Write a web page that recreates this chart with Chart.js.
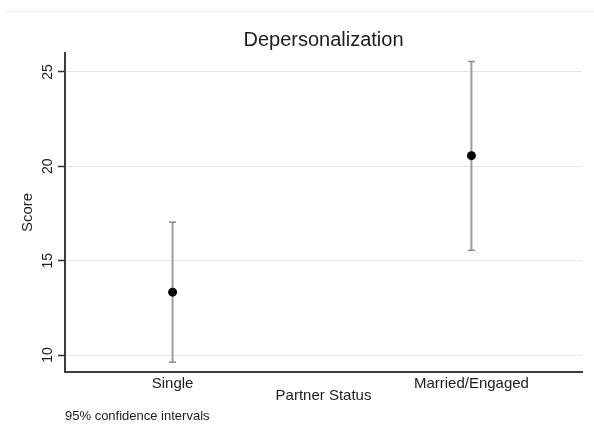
<!DOCTYPE html>
<html>
<head>
<meta charset="utf-8">
<script src="https://cdn.jsdelivr.net/npm/chart.js@4"></script>
<style>
  html, body { margin: 0; padding: 0; background: #fff; }
  #frame { position: relative; width: 594px; height: 434px; }
  #frame canvas { position: absolute; left: 0; top: 0; }
  .rule { position: absolute; left: 6px; right: 0; top: 11px; border-top: 1px solid #efefef; }
</style>
</head>
<body>
<div id="frame">
  <div class="rule"></div>
  <canvas id="chart" width="594" height="434"></canvas>
</div>
<script>
// Mean depersonalization score by partner status, with 95% confidence intervals
const partnerStatus = ['Single', 'Married/Engaged'];
const meanScore = [13.33, 20.56];
const ciLower = [9.62, 15.55];
const ciUpper = [17.04, 25.55];
const scoreTicks = [10, 15, 20, 25];

const FONT = "'Liberation Sans', Arial, Helvetica, sans-serif";
const TEXT = '#1c1c1c';
const positions = partnerStatus.map((_, i) => i + 1);

// Means as solid black markers
const meanDataset = {
  type: 'scatter',
  data: positions.map((x, i) => ({ x, y: meanScore[i] })),
  pointRadius: 4.5,
  pointHoverRadius: 4.5,
  pointBackgroundColor: '#000',
  pointBorderColor: '#000',
  pointBorderWidth: 0
};

// One capped vertical segment per category for the interval
const ciDatasets = positions.map((x, i) => ({
  type: 'line',
  data: [{ x, y: ciLower[i] }, { x, y: ciUpper[i] }],
  borderColor: '#9c9c9c',
  borderWidth: 2,
  pointStyle: 'line',
  pointRadius: 3.5,
  pointHoverRadius: 3.5,
  pointBorderColor: '#8c8c8c',
  pointBorderWidth: 1.5,
  fill: false
}));

new Chart(document.getElementById('chart'), {
  type: 'scatter',
  data: { datasets: [meanDataset, ...ciDatasets] },
  options: {
    responsive: false,
    animation: false,
    devicePixelRatio: 1,
    events: [],
    layout: { padding: { left: 0, right: 12, top: 0, bottom: 0 } },
    plugins: {
      legend: { display: false },
      tooltip: { enabled: false },
      title: {
        display: true,
        fullSize: false,
        text: 'Depersonalization',
        color: TEXT,
        font: { family: FONT, size: 20, weight: 'normal' },
        padding: { top: 28, bottom: 1 }
      },
      subtitle: {
        display: true,
        position: 'bottom',
        align: 'start',
        fullSize: false,
        text: '95% confidence intervals',
        color: TEXT,
        font: { family: FONT, size: 13, weight: 'normal' },
        padding: { top: 0, bottom: 10.2 }
      }
    },
    scales: {
      x: {
        type: 'linear',
        min: 0.64,
        max: 2.37,
        grid: { display: false, drawTicks: false },
        border: { display: true, color: '#3c3c3c', width: 2 },
        ticks: {
          padding: 3,
          color: TEXT,
          font: { family: FONT, size: 15 },
          callback: (v, i) => partnerStatus[i]
        },
        afterBuildTicks: s => { s.ticks = positions.map(v => ({ value: v })); },
        afterFit: s => { s.height = 36.2; },
        title: {
          display: true,
          text: 'Partner Status',
          color: TEXT,
          font: { family: FONT, size: 15 },
          padding: { top: 0, bottom: 3 }
        }
      },
      y: {
        type: 'linear',
        min: 9.1,
        max: 26.0,
        grid: {
          color: '#e6e6e6',
          lineWidth: 1,
          drawTicks: true,
          tickLength: 7,
          tickColor: '#333',
          tickWidth: 1.5
        },
        border: { display: true, color: '#3c3c3c', width: 2 },
        ticks: {
          minRotation: 90,
          maxRotation: 90,
          crossAlign: 'center',
          padding: 2,
          color: TEXT,
          font: { family: FONT, size: 14 }
        },
        afterBuildTicks: s => { s.ticks = scoreTicks.map(v => ({ value: v })); },
        afterFit: s => { s.width = 65; },
        title: {
          display: true,
          text: 'Score',
          color: TEXT,
          font: { family: FONT, size: 15 },
          padding: { top: 19, bottom: 0 }
        }
      }
    }
  }
});
</script>
</body>
</html>
